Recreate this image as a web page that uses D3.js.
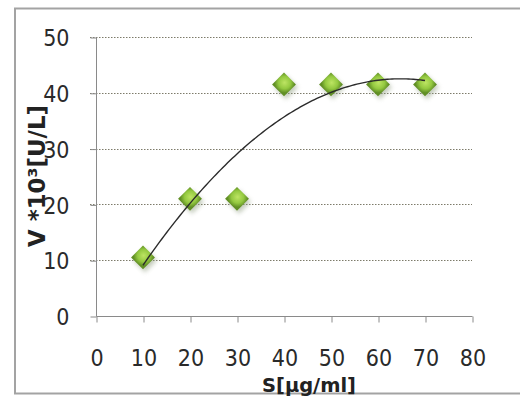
<!DOCTYPE html>
<html>
<head>
<meta charset="utf-8">
<script src="https://cdn.jsdelivr.net/npm/d3@7/dist/d3.min.js"></script>
<style>
  html, body { margin: 0; padding: 0; background: #fff; }
  svg { display: block; }
</style>
</head>
<body>
<svg id="chart" width="520" height="397"></svg>
<script>
// Substrate concentration S [µg/ml] and reaction velocity V*10^3 [U/L]
const sValues = [10, 20, 30, 40, 50, 60, 70];
const vValues = [10.5, 21, 21, 41.5, 41.5, 41.5, 41.5];
const xTicks = [0, 10, 20, 30, 40, 50, 60, 70, 80];
const yTicks = [0, 10, 20, 30, 40, 50];
const xTitle = "S[µg/ml]";
const yTitle = "V *10³[U/L]";

const svg = d3.select("#chart");
const font = "'Liberation Sans Narrow', 'DejaVu Sans Condensed', 'Open Sans', sans-serif";

const x = d3.scaleLinear().domain([0, 80]).range([96, 472]);
const y = d3.scaleLinear().domain([0, 50]).range([316, 37]);

// chart frame
svg.append("rect")
  .attr("x", 15).attr("y", 8.5)
  .attr("width", 520).attr("height", 385)
  .attr("fill", "#fff").attr("stroke", "#a3a3a3").attr("stroke-width", 2);

const defs = svg.append("defs");
const grad = defs.append("radialGradient").attr("id", "gem")
  .attr("cx", "45%").attr("cy", "40%").attr("r", "60%");
grad.append("stop").attr("offset", "0%").attr("stop-color", "#bde463");
grad.append("stop").attr("offset", "60%").attr("stop-color", "#94c940");
grad.append("stop").attr("offset", "100%").attr("stop-color", "#618f25");
const blur = defs.append("filter").attr("id", "shadow")
  .attr("x", "-50%").attr("y", "-50%").attr("width", "200%").attr("height", "200%");
blur.append("feGaussianBlur").attr("stdDeviation", 2.2);

// horizontal gridlines
svg.append("g")
  .selectAll("line")
  .data(yTicks.filter(d => d > 0))
  .join("line")
  .attr("x1", 90).attr("x2", x(80))
  .attr("y1", d => Math.round(y(d)) + 0.5).attr("y2", d => Math.round(y(d)) + 0.5)
  .attr("stroke", "#7d7b6a").attr("stroke-width", 1)
  .attr("stroke-dasharray", "1.5,1.5");

// y axis
const yAxis = svg.append("g")
  .attr("transform", "translate(96.5,0.5)")
  .call(d3.axisLeft(y).tickValues(yTicks).tickSize(6).tickFormat(d3.format("d")).tickPadding(21));
yAxis.select(".domain").attr("stroke", "#8a8a8a").attr("d", `M0,${y(50)}V${y(0)}`);
yAxis.selectAll(".tick line").attr("stroke", "#8a8a8a");
yAxis.selectAll(".tick text")
  .attr("font-family", font).attr("font-size", 23).attr("fill", "#2a2a2a")
  .attr("dy", "0.36em");

// x axis
const xAxis = svg.append("g")
  .attr("transform", `translate(0.5,${Math.round(y(0)) + 0.5})`)
  .call(d3.axisBottom(x).tickValues(xTicks).tickSize(6).tickFormat(d3.format("d")).tickPadding(27));
xAxis.select(".domain").attr("stroke", "#8a8a8a").attr("d", `M${x(0)},0H${x(80)}`);
xAxis.selectAll(".tick line").attr("stroke", "#8a8a8a");
xAxis.selectAll(".tick text")
  .attr("font-family", font).attr("font-size", 23).attr("fill", "#2a2a2a");

// second-order polynomial trendline fitted by least squares
function polyFit2(xs, ys) {
  let S = [0, 0, 0, 0, 0], T = [0, 0, 0];
  xs.forEach((xi, i) => {
    for (let k = 0; k < 5; k++) S[k] += Math.pow(xi, k);
    for (let k = 0; k < 3; k++) T[k] += Math.pow(xi, k) * ys[i];
  });
  const M = [[S[0], S[1], S[2], T[0]], [S[1], S[2], S[3], T[1]], [S[2], S[3], S[4], T[2]]];
  for (let c = 0; c < 3; c++) {
    for (let r = c + 1; r < 3; r++) {
      const f = M[r][c] / M[c][c];
      for (let k = c; k < 4; k++) M[r][k] -= f * M[c][k];
    }
  }
  const coef = [0, 0, 0];
  for (let r = 2; r >= 0; r--) {
    let s = M[r][3];
    for (let k = r + 1; k < 3; k++) s -= M[r][k] * coef[k];
    coef[r] = s / M[r][r];
  }
  return coef;
}
const c = polyFit2(sValues, vValues);
const fitPts = d3.range(sValues[0], sValues[sValues.length - 1] + 0.01, 0.5)
  .map(s => [s, c[0] + c[1] * s + c[2] * s * s]);

// diamond markers with soft drop shadow
const square = d3.symbol().type(d3.symbolSquare).size(285);
const marks = svg.append("g");
marks.selectAll("path.sh")
  .data(sValues)
  .join("path")
  .attr("class", "sh")
  .attr("d", square)
  .attr("transform", (d, i) => `translate(${x(d) + 2},${y(vValues[i]) + 3}) rotate(45)`)
  .attr("fill", "#8a9a7a").attr("opacity", 0.5)
  .attr("filter", "url(#shadow)");
marks.selectAll("path.pt")
  .data(sValues)
  .join("path")
  .attr("class", "pt")
  .attr("d", square)
  .attr("transform", (d, i) => `translate(${x(d)},${y(vValues[i])}) rotate(45)`)
  .attr("fill", "url(#gem)");

svg.append("path")
  .datum(fitPts)
  .attr("fill", "none").attr("stroke", "#2b2b2b").attr("stroke-width", 1.4)
  .attr("d", d3.line().x(d => x(d[0])).y(d => y(d[1])));

// axis titles
svg.append("text")
  .attr("x", 309).attr("y", 391.5)
  .attr("text-anchor", "middle")
  .attr("font-family", font).attr("font-weight", "bold").attr("font-size", 19)
  .attr("fill", "#222")
  .attr("textLength", 94).attr("lengthAdjust", "spacingAndGlyphs")
  .text(xTitle);
svg.append("text")
  .attr("transform", "translate(45,176) rotate(-90)")
  .attr("text-anchor", "middle")
  .attr("font-family", font).attr("font-weight", "bold").attr("font-size", 23)
  .attr("fill", "#222")
  .attr("textLength", 142).attr("lengthAdjust", "spacingAndGlyphs")
  .text(yTitle);
</script>
</body>
</html>
